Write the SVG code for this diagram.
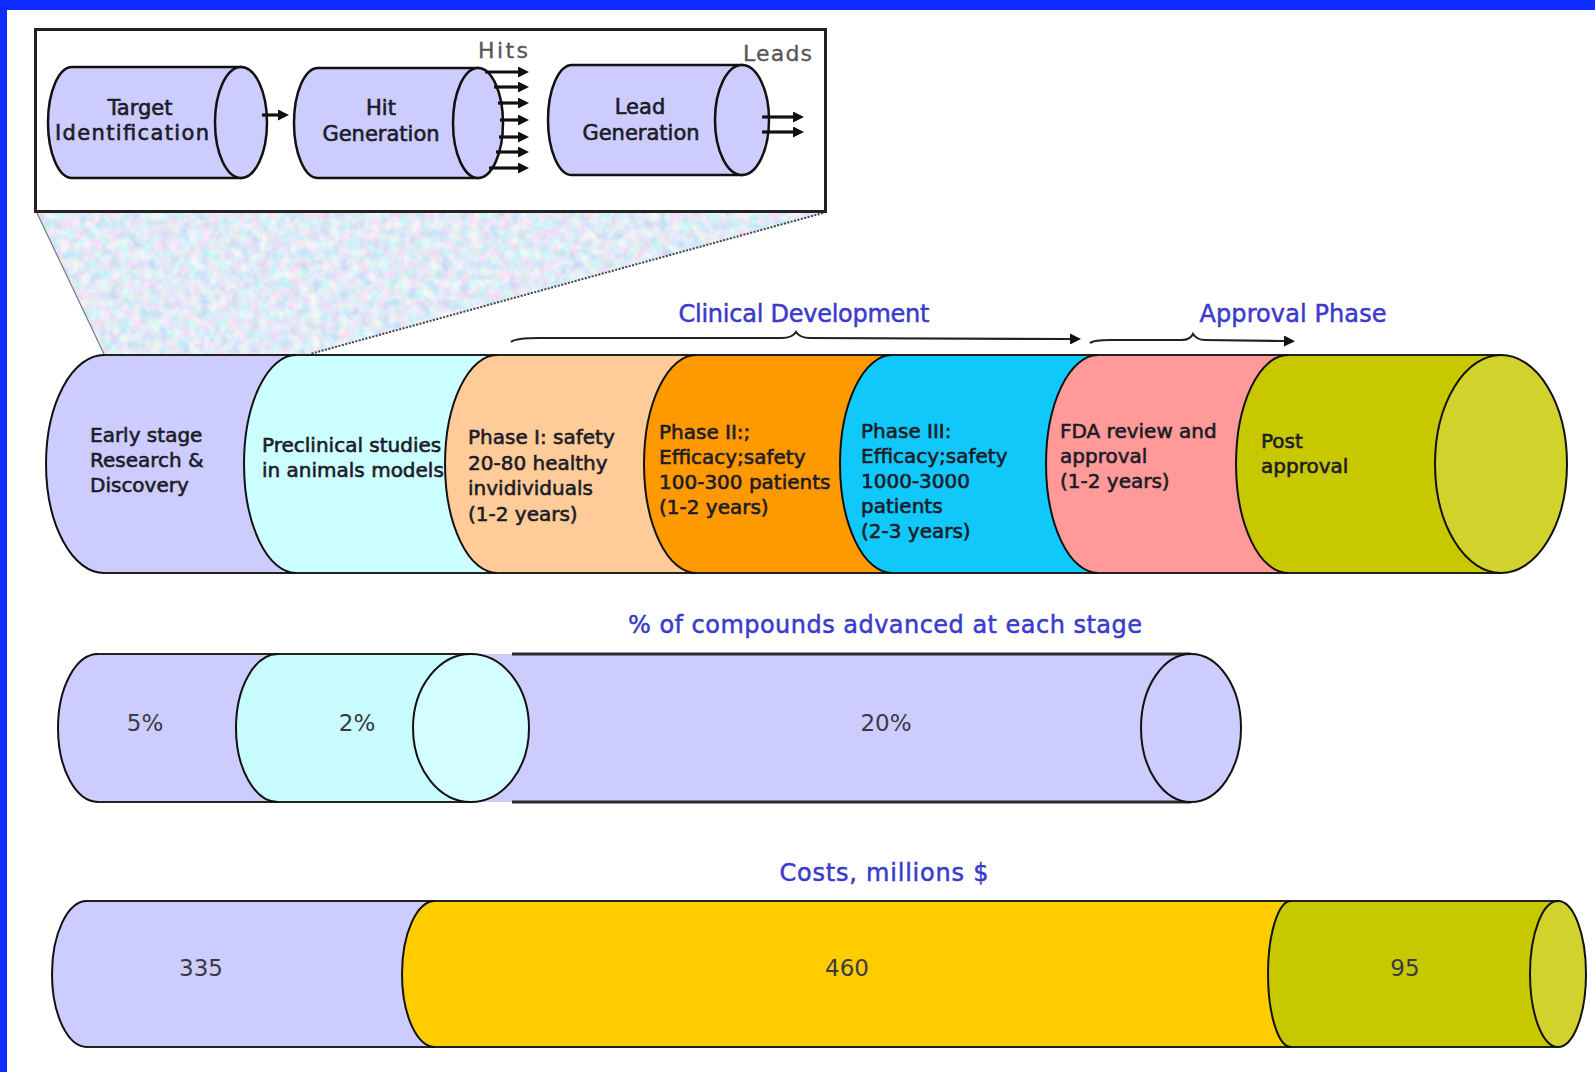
<svg xmlns="http://www.w3.org/2000/svg" width="1595" height="1072" viewBox="0 0 1595 1072">
<defs>
<style>
.t{font-family:"Comic Sans MS","DejaVu Sans",sans-serif;font-size:20px;fill:#1c1c28;stroke:#1c1c28;stroke-width:0.6}
.it{font-family:"Comic Sans MS","DejaVu Sans",sans-serif;font-size:21px;fill:#1c1c28;stroke:#1c1c28;stroke-width:0.6;text-anchor:middle}
.lbl{font-family:"Comic Sans MS","DejaVu Sans",sans-serif;fill:#555;font-size:22px;stroke:#555;stroke-width:0.3}
.ttl{font-family:"Comic Sans MS","DejaVu Sans",sans-serif;font-size:24px;fill:#3a3acc;stroke:#3a3acc;stroke-width:0.5;text-anchor:middle}
.num{font-family:"DejaVu Sans",sans-serif;font-size:23px;fill:#3a3a44;text-anchor:middle}
.fillonly{stroke:none}
.edge{fill:none;stroke:#222;stroke-width:2.2}
.arc{fill:none;stroke:#111;stroke-width:2}
.cyl{stroke:#111;stroke-width:2.5}
.arr{stroke:#111;stroke-width:3.2;fill:none}
.brace{stroke:#222;stroke-width:2.2;fill:none}
</style>
<marker id="ah" viewBox="0 0 10 10" refX="0" refY="5" markerWidth="12" markerHeight="11" markerUnits="userSpaceOnUse" orient="auto"><path d="M0,0 L10,5 L0,10 z" fill="#111"/></marker>
<marker id="bh" viewBox="0 0 10 10" refX="0" refY="5" markerWidth="13" markerHeight="11" markerUnits="userSpaceOnUse" orient="auto"><path d="M0,0 L10,5 L0,10 z" fill="#111"/></marker>
<filter id="tex" x="0" y="0" width="1" height="1">
<feTurbulence type="fractalNoise" baseFrequency="0.1" numOctaves="3" seed="7"/>
<feColorMatrix type="matrix" values="0.75 0 0 0 0.38  0 0.45 0 0 0.6  0 0 0.2 0 0.82  0 0 0 0 1"/>
<feComposite in2="SourceGraphic" operator="in"/>
</filter>
</defs>

<rect x="0" y="0" width="1595" height="1072" fill="#ffffff"/>
<rect x="0" y="0" width="1595" height="10" fill="#0d2cff"/>
<rect x="0" y="0" width="7" height="1072" fill="#0d2cff"/>

<!-- zoom trapezoid -->
<g id="zoom-wedge">
<polygon points="37,213 823,213 310,354 104,354" fill="#c8d6ee" filter="url(#tex)"/>
<line x1="37" y1="213" x2="104" y2="354" stroke="#777" stroke-width="1.2"/>
<line x1="823" y1="213" x2="310" y2="354" stroke="#444" stroke-width="2" stroke-dasharray="2 1.5"/>
</g>

<!-- inset box -->
<g id="inset">
<rect x="35.5" y="29.5" width="790" height="182" fill="#ffffff" stroke="#222" stroke-width="3"/>
</g>

<g id="target-identification">
<path class="cyl" fill="#ccccff" d="M72,67 L241,67 L241,178 L72,178 A24 55.5 0 0 1 72,67 Z"/>
<ellipse class="cyl" cx="241" cy="122.5" rx="26" ry="55.5" fill="#ccccff"/>
<text class="it"><tspan x="140" y="115">Target</tspan><tspan x="132" y="140" textLength="154">Identification</tspan></text>
</g>

<g id="hit-generation">
<path class="cyl" fill="#ccccff" d="M318,68 L478,68 L478,178 L318,178 A24 55 0 0 1 318,68 Z"/>
<ellipse class="cyl" cx="478" cy="123" rx="25" ry="55" fill="#ccccff"/>
<text class="it"><tspan x="381" y="115">Hit</tspan><tspan x="381" y="141">Generation</tspan></text>
</g>

<g id="lead-generation">
<path class="cyl" fill="#ccccff" d="M572,65 L742,65 L742,175 L572,175 A24 55 0 0 1 572,65 Z"/>
<ellipse class="cyl" cx="742" cy="120" rx="27" ry="55" fill="#ccccff"/>
<text class="it"><tspan x="640" y="114">Lead</tspan><tspan x="641" y="140">Generation</tspan></text>
</g>

<g id="inset-labels">
<text class="lbl" x="478" y="58" textLength="50">Hits</text>
<text class="lbl" x="743" y="61" font-size="23" textLength="69">Leads</text>
</g>

<g id="connectors">
<line class="arr" x1="262" y1="115" x2="278" y2="115" marker-end="url(#ah)"/>
<line class="arr" x1="485" y1="72" x2="518" y2="72" marker-end="url(#ah)"/>
<line class="arr" x1="494" y1="87" x2="518" y2="87" marker-end="url(#ah)"/>
<line class="arr" x1="498" y1="103" x2="518" y2="103" marker-end="url(#ah)"/>
<line class="arr" x1="500" y1="120" x2="518" y2="120" marker-end="url(#ah)"/>
<line class="arr" x1="499" y1="137" x2="518" y2="137" marker-end="url(#ah)"/>
<line class="arr" x1="496" y1="152" x2="518" y2="152" marker-end="url(#ah)"/>
<line class="arr" x1="489" y1="168" x2="518" y2="168" marker-end="url(#ah)"/>
<line class="arr" x1="762" y1="117" x2="793" y2="117" marker-end="url(#ah)"/>
<line class="arr" x1="762" y1="132" x2="793" y2="132" marker-end="url(#ah)"/>
<path class="brace" d="M511,342 Q515,338 540,338 L782,338 Q792,338 796,332 Q800,338 810,338 L1070,339" marker-end="url(#bh)"/>
<path class="brace" d="M1090,343 Q1094,340 1110,340 L1182,340 Q1190,340 1193,334 Q1197,340 1205,340 L1284,341" marker-end="url(#bh)"/>
</g>

<g id="titles">
<text class="ttl" x="804" y="322" textLength="251">Clinical Development</text>
<text class="ttl" x="1293" y="322" textLength="187">Approval Phase</text>
<text class="ttl" x="885" y="633" textLength="514">% of compounds advanced at each stage</text>
<text class="ttl" x="884" y="881" textLength="209">Costs, millions $</text>
</g>

<!-- main pipeline row -->
<g id="early-stage">
<path class="fillonly" fill="#ccccff" d="M104,355 L296,355 A52 109 0 0 0 296,573 L104,573 A58 109 0 0 1 104,355 Z"/>
<path class="edge" d="M296,355 L104,355 M104,573 L296,573"/>
<path class="arc" d="M104,573 A58 109 0 0 1 104,355"/>
<text class="t"><tspan x="90" y="442">Early stage</tspan><tspan x="90" y="467">Research &amp;</tspan><tspan x="90" y="492">Discovery</tspan></text>
</g>
<g id="preclinical">
<path class="fillonly" fill="#ccffff" d="M296,355 L497,355 A52 109 0 0 0 497,573 L296,573 A52 109 0 0 1 296,355 Z"/>
<path class="edge" d="M296,355 L497,355 M296,573 L497,573"/>
<path class="arc" d="M296,573 A52 109 0 0 1 296,355"/>
<text class="t"><tspan x="262" y="452">Preclinical studies</tspan><tspan x="262" y="477">in animals models</tspan></text>
</g>
<g id="phase-1">
<path class="fillonly" fill="#ffcc99" d="M497,355 L696,355 A52 109 0 0 0 696,573 L497,573 A52 109 0 0 1 497,355 Z"/>
<path class="edge" d="M497,355 L696,355 M497,573 L696,573"/>
<path class="arc" d="M497,573 A52 109 0 0 1 497,355"/>
<text class="t"><tspan x="468" y="444">Phase I: safety</tspan><tspan x="468" y="470">20-80 healthy</tspan><tspan x="468" y="495">invidividuals</tspan><tspan x="468" y="521">(1-2 years)</tspan></text>
</g>
<g id="phase-2">
<path class="fillonly" fill="#ff9900" d="M696,355 L892,355 A52 109 0 0 0 892,573 L696,573 A52 109 0 0 1 696,355 Z"/>
<path class="edge" d="M696,355 L892,355 M696,573 L892,573"/>
<path class="arc" d="M696,573 A52 109 0 0 1 696,355"/>
<text class="t"><tspan x="659" y="439">Phase II:;</tspan><tspan x="659" y="464">Efficacy;safety</tspan><tspan x="659" y="489">100-300 patients</tspan><tspan x="659" y="514">(1-2 years)</tspan></text>
</g>
<g id="phase-3">
<path class="fillonly" fill="#11c8fa" d="M892,355 L1098,355 A52 109 0 0 0 1098,573 L892,573 A52 109 0 0 1 892,355 Z"/>
<path class="edge" d="M892,355 L1098,355 M892,573 L1098,573"/>
<path class="arc" d="M892,573 A52 109 0 0 1 892,355"/>
<text class="t"><tspan x="861" y="438">Phase III:</tspan><tspan x="861" y="463">Efficacy;safety</tspan><tspan x="861" y="488">1000-3000</tspan><tspan x="861" y="513">patients</tspan><tspan x="861" y="538">(2-3 years)</tspan></text>
</g>
<g id="fda-review">
<path class="fillonly" fill="#ff9a98" d="M1098,355 L1288,355 A52 109 0 0 0 1288,573 L1098,573 A52 109 0 0 1 1098,355 Z"/>
<path class="edge" d="M1098,355 L1288,355 M1098,573 L1288,573"/>
<path class="arc" d="M1098,573 A52 109 0 0 1 1098,355"/>
<text class="t"><tspan x="1060" y="438">FDA review and</tspan><tspan x="1060" y="463">approval</tspan><tspan x="1060" y="488">(1-2 years)</tspan></text>
</g>
<g id="post-approval">
<path class="fillonly" fill="#c8c800" d="M1288,355 L1501,355 L1501,573 L1288,573 A52 109 0 0 1 1288,355 Z"/>
<path class="edge" d="M1288,355 L1501,355 M1288,573 L1501,573"/>
<path class="arc" d="M1288,573 A52 109 0 0 1 1288,355"/>
<text class="t"><tspan x="1261" y="448">Post</tspan><tspan x="1261" y="473">approval</tspan></text>
<ellipse cx="1501" cy="464" rx="66" ry="109" fill="#d2d22c" stroke="#111" stroke-width="2"/>
</g>

<!-- % row -->
<g id="pct-20">
<path class="fillonly" fill="#ccccff" d="M471,654 L1191,654 L1191,802 L471,802 Z"/>
<path fill="none" stroke="#2a2a30" stroke-width="3" d="M512,654 L1191,654 M512,802 L1191,802"/>
<ellipse cx="1191" cy="728" rx="50" ry="74" fill="#ccccff" stroke="#111" stroke-width="2"/>
</g>
<g id="pct-5">
<path class="fillonly" fill="#ccccff" d="M98,654 L278,654 A42 74 0 0 0 278,802 L98,802 A40 74 0 0 1 98,654 Z"/>
<path class="edge" d="M98,654 L278,654 M98,802 L278,802"/>
<path class="arc" d="M98,802 A40 74 0 0 1 98,654"/>
<text class="num" x="145" y="731">5%</text>
</g>
<g id="pct-2">
<path class="fillonly" fill="#c8fcfc" d="M278,654 L471,654 L471,802 L278,802 A42 74 0 0 1 278,654 Z"/>
<path class="edge" d="M278,654 L471,654 M278,802 L471,802"/>
<path class="arc" d="M278,802 A42 74 0 0 1 278,654"/>
<text class="num" x="357" y="731">2%</text>
<ellipse cx="471" cy="728" rx="58" ry="74" fill="#d4fefe" stroke="#111" stroke-width="2"/>
</g>
<g id="pct-20-label">
<text class="num" x="886" y="731">20%</text>
</g>

<!-- cost row -->
<g id="cost-335">
<path class="fillonly" fill="#ccccff" d="M87,901 L435,901 A33 73 0 0 0 435,1047 L87,1047 A35 73 0 0 1 87,901 Z"/>
<path class="edge" d="M87,901 L435,901 M87,1047 L435,1047"/>
<path class="arc" d="M87,1047 A35 73 0 0 1 87,901"/>
<text class="num" x="201" y="976">335</text>
</g>
<g id="cost-460">
<path class="fillonly" fill="#ffcc00" d="M435,901 L1291,901 A23 73 0 0 0 1291,1047 L435,1047 A33 73 0 0 1 435,901 Z"/>
<path class="edge" d="M435,901 L1291,901 M435,1047 L1291,1047"/>
<path class="arc" d="M435,1047 A33 73 0 0 1 435,901"/>
<text class="num" x="847" y="976">460</text>
</g>
<g id="cost-95">
<path class="fillonly" fill="#c8c800" d="M1291,901 L1558,901 L1558,1047 L1291,1047 A23 73 0 0 1 1291,901 Z"/>
<path class="edge" d="M1291,901 L1558,901 M1291,1047 L1558,1047"/>
<path class="arc" d="M1291,1047 A23 73 0 0 1 1291,901"/>
<text class="num" x="1405" y="976">95</text>
<ellipse cx="1558" cy="974" rx="28" ry="73" fill="#d2d22c" stroke="#111" stroke-width="2"/>
</g>
</svg>
